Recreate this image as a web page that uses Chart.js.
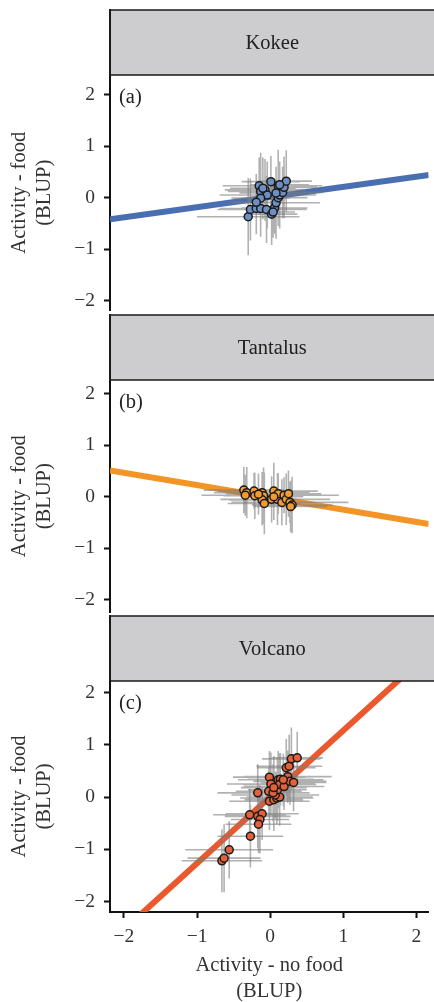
<!DOCTYPE html>
<html>
<head>
<meta charset="utf-8">
<script src="https://cdn.jsdelivr.net/npm/chart.js@4.4.1/dist/chart.umd.min.js"></script>
<style>
  html, body { margin: 0; padding: 0; background: #fff; overflow: hidden; }
  body { width: 434px; height: 1002px; position: relative; }
  .panel { position: absolute; left: 0; width: 434px; }
</style>
</head>
<body>
<div class="panel" style="top:0;height:316px"><canvas id="kokee"></canvas></div>
<div class="panel" style="top:314px;height:304px"><canvas id="tantalus"></canvas></div>
<div class="panel" style="top:614px;height:390px"><canvas id="volcano"></canvas></div>
<script>
// datos (BLUP por individuo, con barras de error)
const sites = ['Kokee', 'Tantalus', 'Volcano'];
const panelTags = ['(a)', '(b)', '(c)'];
const xTicks = [-2, -1, 0, 1, 2];
const yTicks = [-2, -1, 0, 1, 2];

// Kokee
const kokeeX = [-0.30, -0.27, -0.19, -0.13, -0.05, 0.02, 0.06, 0.08, 0.11, 0.13, 0.17, 0.19, 0.22, 0.11, 0.01, -0.15, -0.13, -0.07, -0.04, -0.13, -0.19, 0.08, -0.10, 0.13, 0.04];
const kokeeY = [-0.37, -0.23, -0.21, -0.21, -0.23, -0.32, -0.20, -0.10, 0.00, 0.05, 0.10, 0.20, 0.32, 0.23, 0.31, 0.23, 0.12, 0.15, 0.05, -0.01, -0.09, 0.09, 0.18, 0.25, -0.28];
const kokeeXerr = [0.70, 0.45, 0.50, 0.40, 0.55, 0.35, 0.45, 0.60, 0.40, 0.50, 0.55, 0.45, 0.35, 0.60, 0.40, 0.50, 0.45, 0.55, 0.65, 0.40, 0.35, 0.50, 0.45, 0.40, 0.30];
const kokeeYerr = [0.75, 0.60, 0.50, 0.55, 0.65, 0.60, 0.50, 0.70, 0.55, 0.65, 0.50, 0.60, 0.60, 0.70, 0.50, 0.55, 0.75, 0.60, 0.65, 0.70, 0.55, 0.50, 0.60, 0.45, 0.50];

// Tantalus
const tantalusX = [-0.36, -0.32, -0.34, -0.22, -0.21, -0.11, -0.09, -0.11, -0.08, 0.05, 0.02, 0.10, 0.11, 0.16, 0.19, 0.22, 0.25, 0.27, 0.30, 0.28, 0.05, -0.16];
const tantalusY = [0.13, 0.08, 0.03, 0.11, 0.02, 0.08, 0.02, -0.06, -0.13, 0.11, -0.05, -0.05, 0.06, -0.11, 0.03, -0.05, 0.06, -0.11, -0.16, -0.19, 0.00, 0.05];
const tantalusXerr = [0.55, 0.45, 0.60, 0.50, 0.40, 0.65, 0.55, 0.45, 0.50, 0.60, 0.70, 0.45, 0.55, 0.50, 0.75, 0.60, 0.45, 0.80, 0.55, 0.50, 0.40, 0.45];
const tantalusYerr = [0.45, 0.50, 0.40, 0.35, 0.45, 0.40, 0.55, 0.50, 0.60, 0.55, 0.45, 0.50, 0.40, 0.45, 0.35, 0.50, 0.45, 0.40, 0.55, 0.50, 0.45, 0.40];

// Volcano
const volcanoX = [-0.66, -0.63, -0.56, -0.27, -0.28, -0.17, -0.17, -0.11, -0.14, -0.16, -0.01, 0.01, -0.02, -0.01, 0.05, 0.09, 0.13, 0.07, 0.10, 0.11, 0.14, 0.13, 0.19, 0.22, 0.26, 0.24, 0.27, 0.32, 0.29, 0.37, 0.04, 0.05, 0.18];
const volcanoY = [-1.22, -1.17, -1.01, -0.75, -0.34, 0.08, -0.37, -0.32, -0.43, -0.52, 0.38, 0.25, 0.11, -0.08, -0.05, -0.02, 0.00, 0.04, 0.14, 0.33, 0.34, 0.24, 0.20, 0.56, 0.59, 0.39, 0.30, 0.28, 0.73, 0.75, 0.08, 0.18, 0.33];
const volcanoXerr = [0.55, 0.50, 0.60, 0.45, 0.50, 0.55, 0.45, 0.50, 0.40, 0.45, 0.50, 0.60, 0.45, 0.55, 0.40, 0.50, 0.45, 0.60, 0.40, 0.55, 0.45, 0.50, 0.55, 0.40, 0.45, 0.60, 0.50, 0.45, 0.40, 0.35, 0.50, 0.45, 0.55];
const volcanoYerr = [0.60, 0.65, 0.55, 0.60, 0.50, 0.55, 0.60, 0.50, 0.65, 0.55, 0.50, 0.60, 0.45, 0.55, 0.60, 0.50, 0.55, 0.45, 0.60, 0.55, 0.50, 0.60, 0.45, 0.55, 0.60, 0.50, 0.45, 0.55, 0.60, 0.50, 0.55, 0.60, 0.50];

const fitX = [-2.19, 2.17];
const kokeeFitY = [-0.42, 0.44];
const tantalusFitY = [0.51, -0.53];
const volcanoFitY = [-2.78, 2.76];

const xRange = [-2.19, 2.165];
const yRanges = [[-2.19, 2.38], [-2.25, 2.27], [-2.20, 2.22]];

const serif = "'Liberation Serif', 'DejaVu Serif', serif";
const minus = v => (v < 0 ? '\u2212' + Math.abs(v) : String(v));
const barColor = 'rgba(125,125,125,0.6)';

// barras de error como segmentos cortados con null
function hBars(xs, ys, err) {
  const pts = [];
  xs.forEach((x, i) => pts.push({ x: x - err[i], y: ys[i] }, { x: x + err[i], y: ys[i] }, { x: x, y: null }));
  return pts;
}
function vBars(xs, ys, err) {
  const pts = [];
  xs.forEach((x, i) => pts.push({ x: x, y: ys[i] - err[i] }, { x: x, y: ys[i] + err[i] }, { x: x, y: null }));
  return pts;
}

// franja gris con el nombre del sitio y etiqueta (a)/(b)/(c)
const stripPlugin = {
  id: 'strip',
  afterDraw(chart, args, opts) {
    const { ctx, chartArea } = chart;
    const right = chart.width + 2;
    ctx.save();
    ctx.fillStyle = '#cdcdcf';
    ctx.fillRect(chartArea.left, opts.top, right - chartArea.left, chartArea.top - opts.top);
    ctx.strokeStyle = '#1a1a1a';
    ctx.lineWidth = 1.5;
    ctx.beginPath();
    ctx.moveTo(chartArea.left, opts.top);
    ctx.lineTo(right, opts.top);
    ctx.moveTo(chartArea.left, chartArea.top);
    ctx.lineTo(right, chartArea.top);
    ctx.stroke();
    ctx.lineWidth = 2;
    ctx.beginPath();
    ctx.moveTo(chartArea.left, opts.top - 1);
    ctx.lineTo(chartArea.left, chartArea.top);
    ctx.stroke();
    ctx.fillStyle = '#222';
    ctx.font = '20.5px ' + serif;
    ctx.textAlign = 'center';
    ctx.textBaseline = 'middle';
    ctx.fillText(opts.name, (chartArea.left + chartArea.right) / 2 + 3, (opts.top + chartArea.top) / 2 + 1);
    ctx.textAlign = 'left';
    ctx.fillText(opts.tag, chartArea.left + 9, chartArea.top + 23);
    ctx.restore();
  }
};

function makePanel(id, idx, cfg) {
  const showX = idx === 2;
  new Chart(document.getElementById(id), {
    type: 'scatter',
    data: {
      datasets: [
        {
          data: cfg.xs.map((x, i) => ({ x: x, y: cfg.ys[i] })),
          backgroundColor: cfg.fill,
          borderColor: '#1a1a1a',
          borderWidth: 1.5,
          pointRadius: 4,
          order: 0
        },
        {
          data: hBars(cfg.xs, cfg.ys, cfg.xerr),
          showLine: true, spanGaps: false, pointRadius: 0,
          borderColor: barColor, borderWidth: 1.6,
          order: 1
        },
        {
          data: vBars(cfg.xs, cfg.ys, cfg.yerr),
          showLine: true, spanGaps: false, pointRadius: 0,
          borderColor: barColor, borderWidth: 1.6,
          order: 1
        },
        {
          data: fitX.map((x, i) => ({ x: x, y: cfg.fitY[i] })),
          showLine: true, pointRadius: 0,
          borderColor: cfg.line, borderWidth: 6,
          order: 2
        }
      ]
    },
    options: {
      responsive: true,
      maintainAspectRatio: false,
      animation: false,
      devicePixelRatio: 1,
      layout: { padding: { top: cfg.padTop, bottom: cfg.padBottom, left: 0, right: 0 } },
      plugins: {
        legend: { display: false },
        tooltip: { enabled: false },
        strip: { top: cfg.stripTop, name: sites[idx], tag: panelTags[idx] }
      },
      scales: {
        x: {
          type: 'linear',
          display: showX,
          min: xRange[0], max: xRange[1],
          afterBuildTicks: s => { s.ticks = xTicks.map(v => ({ value: v })); },
          afterFit: s => {
            if (showX) s.height = 92;
            s.paddingLeft = 0; s.paddingRight = 0;
          },
          border: { display: true, color: '#111', width: 2 },
          grid: { drawOnChartArea: false, drawTicks: true, tickLength: 6, tickWidth: 2, tickColor: '#111' },
          ticks: { color: '#333', padding: 7, font: { family: serif, size: 19.5 }, callback: v => minus(v) },
          title: {
            display: true, text: ['Activity - no food', '(BLUP)'], color: '#333',
            font: { family: serif, size: 20.5, lineHeight: 1.25 }, padding: { top: 0, bottom: 0 }
          }
        },
        y: {
          type: 'linear',
          min: yRanges[idx][0], max: yRanges[idx][1],
          afterBuildTicks: s => { s.ticks = yTicks.map(v => ({ value: v })); },
          afterFit: s => {
            s.width = 110;
            s.paddingTop = 0; s.paddingBottom = 0;
          },
          border: { display: true, color: '#111', width: 2 },
          grid: { drawOnChartArea: false, drawTicks: true, tickLength: 6, tickWidth: 2, tickColor: '#111' },
          ticks: { color: '#333', padding: 9, font: { family: serif, size: 19.5 }, callback: v => minus(v) },
          title: {
            display: true, text: ['Activity - food', '(BLUP)'], color: '#333',
            font: { family: serif, size: 20.5, lineHeight: 1.22 }, padding: { top: 7, bottom: 0 }
          }
        }
      }
    },
    plugins: [stripPlugin]
  });
}

makePanel('kokee', 0, {
  xs: kokeeX, ys: kokeeY, xerr: kokeeXerr, yerr: kokeeYerr, fitY: kokeeFitY,
  fill: '#6d8fc4', line: '#4a6fb0', stripTop: 10, padTop: 75, padBottom: 2
});
makePanel('tantalus', 1, {
  xs: tantalusX, ys: tantalusY, xerr: tantalusXerr, yerr: tantalusYerr, fitY: tantalusFitY,
  fill: '#f29b35', line: '#f39427', stripTop: 1, padTop: 66, padBottom: 2
});
makePanel('volcano', 2, {
  xs: volcanoX, ys: volcanoY, xerr: volcanoXerr, yerr: volcanoYerr, fitY: volcanoFitY,
  fill: '#e4623a', line: '#ea582d', stripTop: 2, padTop: 67, padBottom: 0
});
</script>
</body>
</html>
